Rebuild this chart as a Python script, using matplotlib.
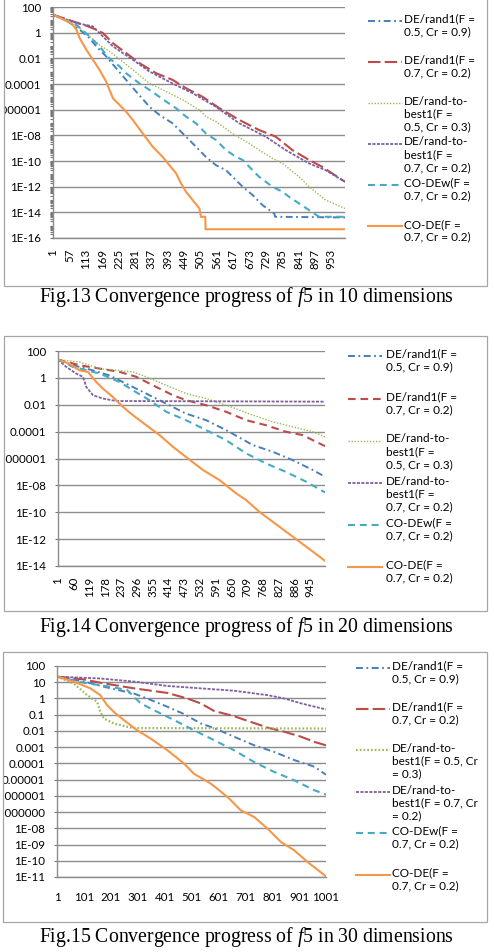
import matplotlib.pyplot as plt
from matplotlib.lines import Line2D
from matplotlib.patches import Rectangle
from matplotlib.ticker import FixedLocator, FixedFormatter, NullFormatter

plt.rcParams['font.family'] = ['Lato', 'DejaVu Sans']
plt.rcParams['lines.scale_dashes'] = False
plt.rcParams['mathtext.fontset'] = 'custom'
plt.rcParams['mathtext.rm'] = 'Liberation Serif'
plt.rcParams['mathtext.it'] = 'Liberation Serif:italic'

W, H = 494, 952

labels_a = ['DE/rand1(F =\n0.5, Cr = 0.9)', 'DE/rand1(F =\n0.7, Cr = 0.2)',
            'DE/rand-to-\nbest1(F =\n0.5, Cr = 0.3)', 'DE/rand-to-\nbest1(F =\n0.7, Cr = 0.2)',
            'CO-DEw(F =\n0.7, Cr = 0.2)', 'CO-DE(F =\n0.7, Cr = 0.2)']
labels_c = ['DE/rand1(F =\n0.5, Cr = 0.9)', 'DE/rand1(F =\n0.7, Cr = 0.2)',
            'DE/rand-to-\nbest1(F = 0.5, Cr\n= 0.3)', 'DE/rand-to-\nbest1(F = 0.7, Cr\n= 0.2)',
            'CO-DEw(F =\n0.7, Cr = 0.2)', 'CO-DE(F =\n0.7, Cr = 0.2)']

# ---- f5, 10 dimensions ----
x10_rand1a = [1, 46, 92, 126, 149, 183, 217, 251, 285, 331, 365, 410, 456, 490, 524, 558, 593, 627, 650, 684, 718, 758, 761, 1000]
y10_rand1a = [2.5e1, 9.1e0, 1.7e0, 3.8e-1, 8.5e-2, 1.4e-2, 1.7e-3, 2.1e-4, 2.6e-5, 1.7e-6, 3.9e-7, 8.7e-8, 7.9e-9, 1.3e-9,
              2.1e-10, 4.8e-11, 1.9e-11, 3.2e-12, 9.8e-13, 2.2e-13, 3.6e-14, 8.1e-15, 4.5e-15, 4.0e-15]
x10_rand1b = [1, 69, 115, 149, 172, 206, 251, 297, 354, 410, 456, 513, 570, 638, 706, 763, 820, 877, 922, 1000]
y10_rand1b = [2.5e1, 7.6e0, 3.5e0, 1.7e0, 9.3e-1, 1.5e-1, 2.6e-2, 4.2e-3, 6.9e-4, 2.1e-4, 4.7e-5, 1.0e-5, 1.3e-6, 1.6e-7,
              2.6e-8, 7.9e-9, 7.1e-10, 1.2e-10, 3.5e-11, 2.4e-12]
x10_rtb_a = [1, 92, 126, 160, 194, 217, 274, 331, 388, 445, 502, 524, 558, 615, 672, 706, 752, 786, 843, 877, 934, 1000]
y10_rtb_a = [2.5e1, 2.3e0, 5.1e-1, 1.1e-1, 3.5e-2, 1.4e-2, 1.3e-3, 1.1e-4, 2.6e-5, 5.8e-6, 9.5e-7, 2.9e-7, 1.2e-7, 1.4e-8,
             2.3e-9, 7.1e-10, 1.6e-10, 6.5e-11, 5.9e-12, 9.8e-13, 8.9e-14, 2.0e-14]
x10_rtb_b = [1, 81, 137, 160, 206, 274, 331, 410, 479, 558, 638, 729, 797, 877, 934, 1000]
y10_rtb_b = [2.5e1, 5.6e0, 3.1e0, 9.3e-1, 8.5e-2, 7.8e-3, 9.3e-4, 1.1e-4, 1.9e-5, 1.7e-6, 8.7e-8, 7.9e-9, 7.1e-10, 6.5e-11,
             1.9e-11, 2.4e-12]
x10_codew = [1, 81, 126, 160, 194, 229, 251, 297, 331, 388, 422, 456, 490, 524, 558, 593, 627, 650, 684, 706, 752, 786,
             809, 843, 877, 911, 1000]
y10_codew = [2.5e1, 4.2e0, 5.1e-1, 8.5e-2, 1.0e-2, 2.3e-3, 6.9e-4, 1.1e-4, 3.5e-5, 4.3e-6, 1.3e-6, 2.9e-7, 8.7e-8, 1.4e-8,
             4.4e-9, 7.1e-10, 2.1e-10, 1.2e-10, 1.9e-11, 5.9e-12, 9.8e-13, 4.0e-13, 1.6e-13, 4.9e-14, 1.5e-14, 4.5e-15, 4.5e-15]
x10_code = [1, 64, 81, 92, 115, 160, 183, 206, 217, 251, 274, 308, 342, 376, 399, 422, 439, 456, 479, 502, 507, 522, 523, 1000]
y10_code = [2.5e1, 5.6e0, 1.7e0, 3.8e-1, 4.7e-2, 1.3e-3, 1.5e-4, 7.8e-6, 4.3e-6, 7.1e-7, 1.6e-7, 1.4e-8, 1.3e-9, 2.1e-10,
            4.8e-11, 1.1e-11, 1.8e-12, 4.0e-13, 8.9e-14, 2.0e-14, 4.5e-15, 4.5e-15, 4.8e-16, 4.8e-16]

# ---- f5, 20 dimensions ----
x20_rand1a = [1, 57, 132, 194, 256, 331, 406, 480, 555, 630, 730, 804, 879, 954, 1000]
y20_rand1a = [2.3e1, 8.7e0, 3.6e0, 1.5e0, 3.7e-1, 6.8e-2, 1.2e-2, 2.2e-3, 7.1e-4, 1.3e-4, 1.0e-5, 3.2e-6, 7.6e-7, 1.4e-7, 4.4e-8]
x20_rand1b = [1, 82, 157, 231, 294, 356, 431, 480, 555, 630, 705, 779, 854, 916, 1000]
y20_rand1b = [2.3e1, 8.7e0, 4.9e0, 2.8e0, 1.2e0, 2.8e-1, 5.1e-2, 2.2e-2, 9.3e-3, 3.0e-3, 7.1e-4, 3.0e-4, 9.8e-5, 5.5e-5, 8.3e-6]
x20_rtb_a = [1, 82, 157, 281, 331, 406, 480, 555, 630, 730, 804, 879, 954, 1000]
y20_rtb_a = [2.3e1, 1.5e1, 4.9e0, 2.8e0, 1.2e0, 2.8e-1, 6.8e-2, 2.9e-2, 9.3e-3, 1.7e-3, 5.4e-4, 2.3e-4, 9.8e-5, 4.1e-5]
x20_rtb_b = [1, 32, 69, 94, 107, 132, 169, 219, 1000]
y20_rtb_b = [2.3e1, 6.5e0, 2.1e0, 1.2e0, 2.1e-1, 5.1e-2, 2.9e-2, 1.9e-2, 1.7e-2]
x20_codew = [1, 57, 157, 231, 281, 343, 406, 480, 555, 630, 705, 779, 854, 929, 1000]
y20_codew = [2.3e1, 6.5e0, 2.1e0, 5.0e-1, 1.2e-1, 2.2e-2, 3.0e-3, 7.1e-4, 1.3e-4, 2.3e-5, 2.4e-6, 4.3e-7, 1.0e-7, 1.9e-8, 3.0e-9]
x20_code = [1, 45, 82, 113, 144, 169, 206, 244, 281, 331, 381, 431, 480, 543, 605, 667, 705, 754, 804, 854, 904, 954, 1000]
y20_code = [2.3e1, 1.1e1, 3.6e0, 2.8e0, 5.0e-1, 1.6e-1, 3.8e-2, 6.9e-3, 1.7e-3, 3.0e-4, 5.5e-5, 7.4e-6, 1.3e-6, 1.4e-7,
            2.5e-8, 2.6e-9, 8.1e-10, 1.1e-10, 2.0e-11, 3.6e-12, 6.6e-13, 1.2e-13, 2.4e-14]

# ---- f5, 30 dimensions ----
x30_rand1a = [1, 100, 200, 287, 336, 411, 473, 535, 585, 659, 734, 808, 883, 958, 1001]
y30_rand1a = [2.2e1, 1.1e1, 4.2e0, 2.0e0, 1.0e0, 3.1e-1, 1.1e-1, 2.9e-2, 1.5e-2, 4.4e-3, 1.3e-3, 5.1e-4, 1.6e-4, 6.2e-5, 2.0e-5]
x30_rand1b = [1, 100, 162, 287, 411, 485, 535, 585, 659, 721, 784, 846, 908, 958, 1001]
y30_rand1b = [2.2e1, 1.5e1, 9.3e0, 4.2e0, 2.2e0, 1.0e0, 5.0e-1, 1.7e-1, 8.1e-2, 3.6e-2, 1.6e-2, 8.9e-3, 4.4e-3, 2.1e-3, 1.3e-3]
x30_rtb_a = [1, 63, 113, 150, 162, 175, 212, 262, 287, 1001]
y30_rtb_a = [2.2e1, 8.5e0, 1.6e0, 6.3e-1, 1.5e-1, 5.9e-2, 2.9e-2, 1.8e-2, 1.5e-2, 1.4e-2]
x30_rtb_b = [1, 162, 287, 411, 535, 659, 784, 846, 908, 1001]
y30_rtb_b = [2.2e1, 1.7e1, 1.1e1, 5.9e0, 4.2e0, 3.0e0, 1.6e0, 1.0e0, 5.0e-1, 2.1e-1]
x30_codew = [1, 100, 200, 262, 312, 361, 436, 510, 585, 659, 734, 808, 883, 958, 1001]
y30_codew = [2.2e1, 9.3e0, 5.2e0, 3.3e0, 5.0e-1, 1.9e-1, 4.7e-2, 1.1e-2, 2.7e-3, 6.5e-4, 1.2e-4, 3.0e-5, 9.1e-6, 2.2e-6, 1.2e-6]
x30_code = [1, 63, 125, 162, 187, 212, 249, 299, 349, 411, 473, 510, 572, 635, 684, 734, 784, 834, 883, 933, 1001]
y30_code = [2.2e1, 1.1e1, 4.2e0, 1.6e0, 3.9e-1, 1.5e-1, 4.7e-2, 1.1e-2, 3.4e-3, 6.5e-4, 9.8e-5, 2.3e-5, 5.8e-6, 8.5e-7,
            1.3e-7, 5.0e-8, 9.5e-9, 1.4e-9, 4.4e-10, 8.3e-11, 1.1e-11]

# tick labels
xt10 = [1, 57, 113, 169, 225, 281, 337, 393, 449, 505, 561, 617, 673, 729, 785, 841, 897, 953]
xt20 = [1, 60, 119, 178, 237, 296, 355, 414, 473, 532, 591, 650, 709, 768, 827, 886, 945]
xt30 = [1, 101, 201, 301, 401, 501, 601, 701, 801, 901, 1001]
yt10 = [1e2, 1e0, 1e-2, 1e-4, 1e-6, 1e-8, 1e-10, 1e-12, 1e-14, 1e-16]
yl10 = ['100', '1', '0.01', '0.0001', '0.000001', '1E-08', '1E-10', '1E-12', '1E-14', '1E-16']
yt20 = [1e2, 1e0, 1e-2, 1e-4, 1e-6, 1e-8, 1e-10, 1e-12, 1e-14]
yl20 = ['100', '1', '0.01', '0.0001', '0.000001', '1E-08', '1E-10', '1E-12', '1E-14']
yt30 = [1e2, 1e1, 1e0, 1e-1, 1e-2, 1e-3, 1e-4, 1e-5, 1e-6, 1e-7, 1e-8, 1e-9, 1e-10, 1e-11]
yl30 = ['100', '10', '1', '0.1', '0.01', '0.001', '0.0001', '0.00001', '0.000001', '0.000000',
        '1E-08', '1E-09', '1E-10', '1E-11']

blue = dict(color='#4A7EBB', ls=(0, (5, 2.5, 1.3, 2.5)), lw=1.4)
red_long = dict(color='#BE4B48', ls=(0, (9, 3)), lw=1.5)
red_mid = dict(color='#BE4B48', ls=(0, (5.5, 3.5)), lw=1.5)
green = dict(color='#98B954', ls=(0, (1, 1.2)), lw=1.0)
green_thick = dict(color='#98B954', ls=(0, (1.2, 1.5)), lw=1.6)
purple = dict(color='#7D60A0', ls=(0, (2.2, 1)), lw=1.3)
teal = dict(color='#46AAC5', ls=(0, (5, 3.5)), lw=1.5)
orange = dict(color='#F79646', ls='-', lw=1.5)

fig = plt.figure(figsize=(W / 100, H / 100), dpi=100)


def frame(l, t, r, b):
    rect = Rectangle((l / W, 1 - b / H), (r - l) / W, (b - t) / H, transform=fig.transFigure,
                     fill=False, ec='#a6a6a6', lw=0.9)
    fig.add_artist(rect)
    return rect


def panel(box, clip, ymin, yt, yl, xt, xmax, rotate, minor):
    l, t, r, b = box
    ax = fig.add_axes([l / W, 1 - b / H, (r - l) / W, (b - t) / H])
    ax.set_yscale('log')
    ax.set_ylim(ymin, 100)
    ax.set_xlim(1, xmax)
    ax.yaxis.set_major_locator(FixedLocator(yt))
    ax.yaxis.set_major_formatter(FixedFormatter(yl))
    if minor:
        ax.yaxis.set_minor_locator(FixedLocator([m * 10.0 ** e for e in range(-17, 2) for m in range(2, 10)]))
        ax.tick_params(axis='y', which='minor', length=2, width=0.8, color='#777777')
    else:
        ax.yaxis.set_minor_locator(FixedLocator([]))
    ax.yaxis.set_minor_formatter(NullFormatter())
    ax.set_xticks(xt)
    ax.set_xticklabels([str(v) for v in xt], rotation=90 if rotate else 0)
    ax.tick_params(axis='y', which='major', length=2.5, width=0.8, color='#777777', pad=6, labelsize=8.3)
    ax.tick_params(axis='x', length=0, pad=8 if rotate else 11, labelsize=8.3)
    ax.grid(True, axis='y', which='major', color='#8c8c8c', lw=1.0)
    for s in ['top', 'right']:
        ax.spines[s].set_visible(False)
    for s in ['left', 'bottom']:
        ax.spines[s].set_color('#8c8c8c')
        ax.spines[s].set_linewidth(1.0)
    ax.set_axisbelow(True)
    # labels that are too long are cut by the chart frame, as in the original
    for tk in ax.yaxis.get_major_ticks():
        tk.label1.set_clip_path(clip)
        tk.label1.set_clip_on(True)
    return ax


def legend(x0, x1, xt, ys, labels, styles):
    for y, lab, st in zip(ys, labels, styles):
        fig.add_artist(Line2D([x0 / W, x1 / W], [1 - y / H, 1 - y / H], transform=fig.transFigure, **st))
        fig.text(xt / W, 1 - (y - 7.5) / H, lab, ha='left', va='top', fontsize=8.5, linespacing=1.22)


def caption(y, txt):
    fig.text(246 / W, 1 - y / H, txt, ha='center', va='center', family='Liberation Serif', fontsize=14.2)


# panel 1
f1 = frame(4, -3, 487, 286)
ax1 = panel((53, 7, 345, 238), f1, 1e-16, yt10, yl10, xt10, 1000, True, True)
series1 = [(x10_rand1a, y10_rand1a, blue), (x10_rand1b, y10_rand1b, red_long), (x10_rtb_a, y10_rtb_a, green),
           (x10_rtb_b, y10_rtb_b, purple), (x10_codew, y10_codew, teal), (x10_code, y10_code, orange)]
for x, y, st in series1:
    ax1.plot(x, y, **st)
legend(368, 402, 404, [21, 62, 103.3, 144, 185, 226.3], labels_a, [s[2] for s in series1])
caption(297, r'Fig.13 Convergence progress of $\mathit{f5}$ in 10 dimensions')

# panel 2
f2 = frame(4, 336, 487, 611)
ax2 = panel((58, 351, 325, 566), f2, 1e-14, yt20, yl20, xt20, 1000, True, False)
series2 = [(x20_rand1a, y20_rand1a, blue), (x20_rand1b, y20_rand1b, red_mid), (x20_rtb_a, y20_rtb_a, green),
           (x20_rtb_b, y20_rtb_b, purple), (x20_codew, y20_codew, teal), (x20_code, y20_code, orange)]
for x, y, st in series2:
    ax2.plot(x, y, **st)
legend(348, 382, 386, [355.7, 398.7, 440.7, 483.3, 525, 567], labels_a, [s[2] for s in series2])
caption(627, r'Fig.14 Convergence progress of $\mathit{f5}$ in 20 dimensions')

# panel 3
f3 = frame(3, 652, 487, 922)
ax3 = panel((57, 666, 326, 877), f3, 1e-11, yt30, yl30, xt30, 1001, False, False)
series3 = [(x30_rand1a, y30_rand1a, blue), (x30_rand1b, y30_rand1b, red_long), (x30_rtb_a, y30_rtb_a, green_thick),
           (x30_rtb_b, y30_rtb_b, purple), (x30_codew, y30_codew, teal), (x30_code, y30_code, orange)]
for x, y, st in series3:
    ax3.plot(x, y, **st)
legend(356, 390, 392, [668, 709, 750, 792.3, 832.7, 875], labels_c, [s[2] for s in series3])
caption(937, r'Fig.15 Convergence progress of $\mathit{f5}$ in 30 dimensions')

fig.savefig('out.png', dpi=100)
